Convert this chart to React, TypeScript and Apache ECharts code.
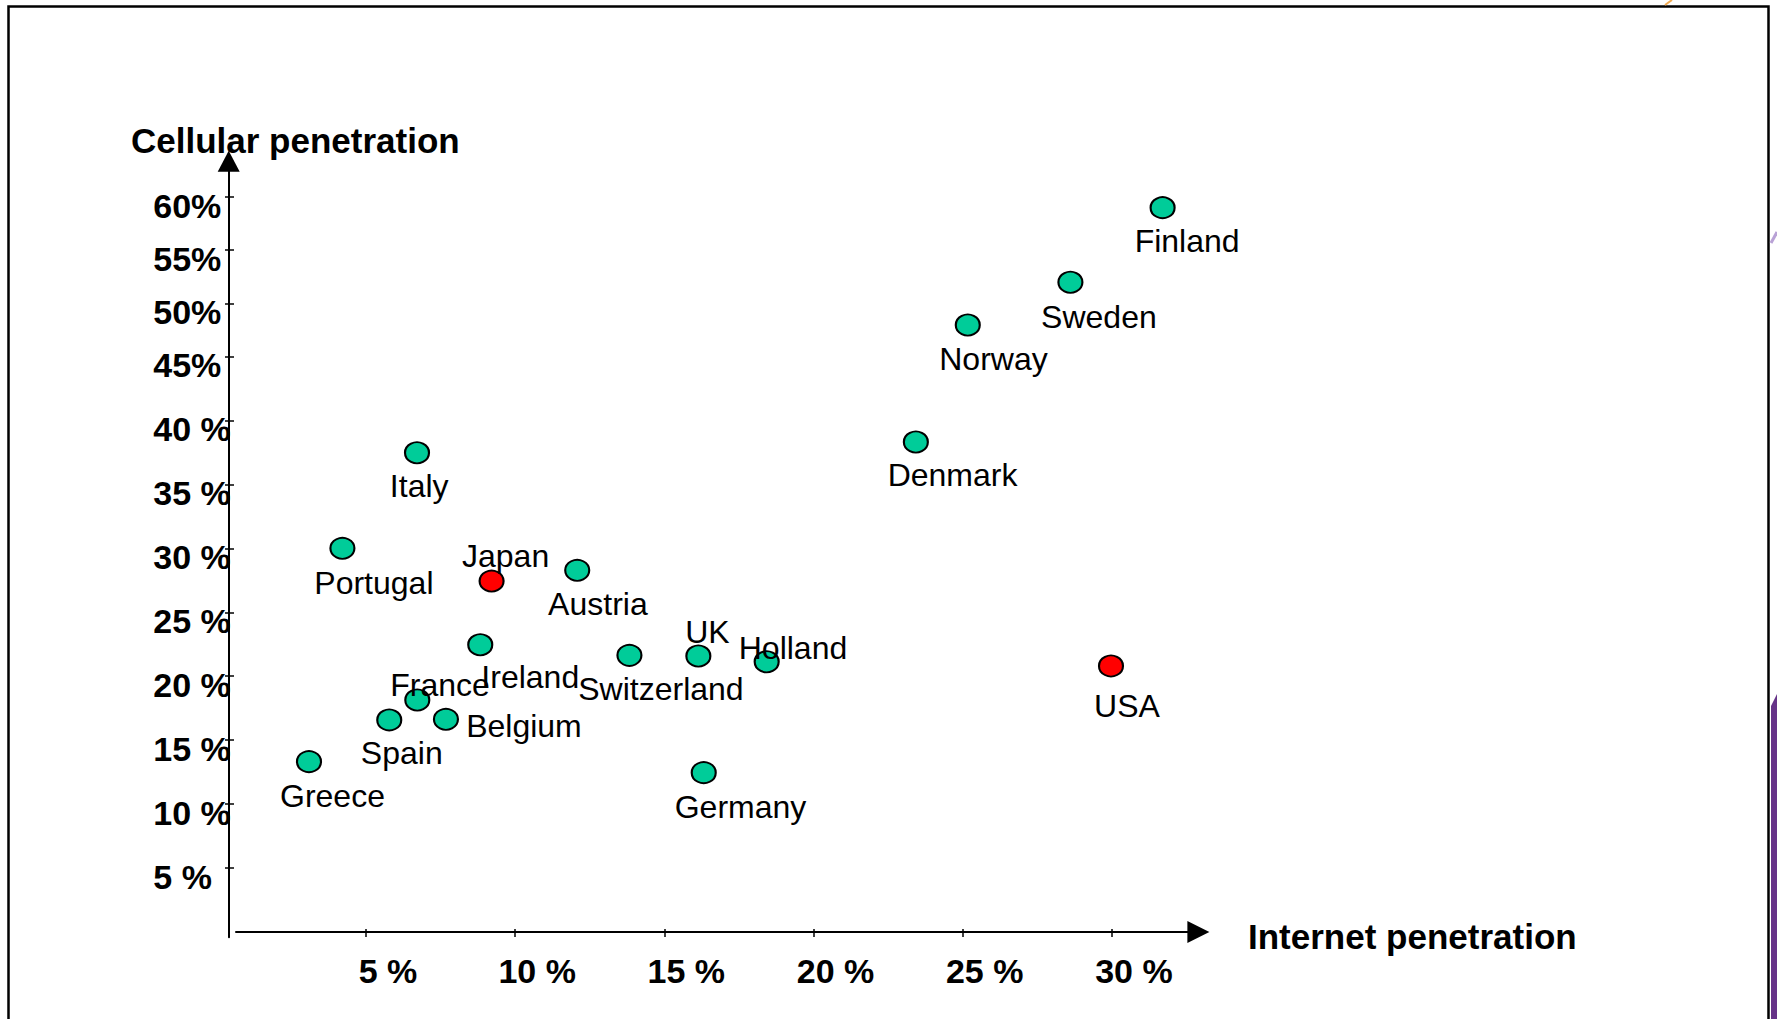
import React, { useEffect, useRef } from "react";
import * as echarts from "echarts";

// ---- data ----
const countries = [
  "Finland", "Sweden", "Norway", "Denmark", "Italy", "Portugal", "Japan", "Austria", "Ireland",
  "Switzerland", "UK", "Holland", "USA", "France", "Spain", "Belgium", "Greece", "Germany",
];
const internetPenetration = [
  31.7, 28.61, 25.17, 23.43, 6.71, 4.21, 9.21, 12.08, 8.83,
  13.83, 16.14, 18.43, 29.97, 6.72, 5.78, 7.68, 3.09, 16.32,
];
const cellularPenetration = [
  59.0, 51.98, 47.96, 38.31, 37.47, 30.0, 27.44, 28.28, 22.46,
  21.63, 21.58, 21.13, 20.8, 18.14, 16.58, 16.63, 13.32, 12.46,
];
const highlighted = ["Japan", "USA"];

const xTicks = [5, 10, 15, 20, 25, 30];
const xTickLabels = ["5 %", "10 %", "15 %", "20 %", "25 %", "30 %"];
const yTicks = [5, 10, 15, 20, 25, 30, 35, 40, 45, 50, 55, 60];
const yTickLabels = ["5 %", "10 %", "15 %", "20 %", "25 %", "30 %", "35 %", "40 %", "45%", "50%", "55%", "60%"];

// the y axis is drawn in two scales: 0–45 % and (compressed) 45 % and above
const Y_BREAK = 45;

// ---- layout / style (not data) ----
const FONT = "'Liberation Sans', Arial, Helvetica, sans-serif";
const GREEN = "#00CC99";
const RED = "#FF0000";
const labelOffsets: Record<string, [number, number]> = {
  Finland: [24.5, 33], Sweden: [28.5, 34.4], Norway: [25.7, 34], Denmark: [36.7, 32.7],
  USA: [16, 39.8], Italy: [2.2, 33.6], Portugal: [31.5, 34.2], Japan: [14, -25],
  Austria: [20.7, 34.2], Ireland: [50, 32], Switzerland: [31.5, 33.9], UK: [9, -23.5],
  Holland: [26.3, -14], France: [22.7, -15], Spain: [12.5, 33.5], Belgium: [78, 7],
  Greece: [23.5, 34], Germany: [36.8, 34],
};

const X_ZERO_PX = 216.8;
const X_PX_PER = 29.836;
const GRID_LEFT = 236;
const X_END_PX = 1198.4;
const Y_ZERO_PX = 932;
const Y_LOW_PX_PER = 12.79;
const Y_UP_PX_PER = 10.627;
const LOW_BOTTOM_PX = 937.3;
const BREAK_PX = Y_ZERO_PX - Y_BREAK * Y_LOW_PX_PER;
const UP_TOP_PX = 161.2;
const Y_AXIS_PX = 228.7;

const xMin = (GRID_LEFT - X_ZERO_PX) / X_PX_PER;
const xMax = (X_END_PX - X_ZERO_PX) / X_PX_PER;
const gridWidth = X_END_PX - GRID_LEFT;
const lowHeight = LOW_BOTTOM_PX - BREAK_PX;
const lowMin = -(LOW_BOTTOM_PX - Y_ZERO_PX) / Y_LOW_PX_PER;
const upHeight = BREAK_PX - UP_TOP_PX;
const upMax = Y_BREAK + upHeight / Y_UP_PX_PER;

const lowTicks = yTicks.filter((v) => v < Y_BREAK);
const upTicks = yTicks.filter((v) => v >= Y_BREAK);

const xLabel = (v: number) => {
  const i = xTicks.findIndex((t) => Math.abs(t - v) < 1e-6);
  return i >= 0 ? xTickLabels[i] : "";
};
const yLabel = (v: number) => {
  const i = yTicks.findIndex((t) => Math.abs(t - v) < 1e-6);
  return i >= 0 ? yTickLabels[i] : "";
};

function buildPoints(upper: boolean) {
  const out: any[] = [];
  countries.forEach((name, i) => {
    const y = cellularPenetration[i];
    if ((y >= Y_BREAK) !== upper) return;
    out.push({
      name,
      value: [internetPenetration[i], y],
      itemStyle: { color: highlighted.includes(name) ? RED : GREEN },
      label: { offset: labelOffsets[name] || [0, 32] },
    });
  });
  return out;
}

const axisLabelFont = { fontFamily: FONT, fontWeight: "bold" as const, fontSize: 34, color: "#000" };
const blackLine = { color: "#000", width: 2 };
const tickLine = { color: "#000", width: 1.5 };

function mainYAxis(grid: number, min: number, max: number, ticks: number[], arrow: boolean) {
  return {
    gridIndex: grid, type: "value", position: "left", offset: GRID_LEFT - Y_AXIS_PX, min, max,
    splitLine: { show: false },
    axisLine: {
      show: true, onZero: false, lineStyle: blackLine,
      symbol: arrow ? ["none", "triangle"] : ["none", "none"], symbolSize: [22, 21],
    },
    axisTick: { show: true, customValues: ticks, length: 3.7, lineStyle: tickLine },
    axisLabel: {
      show: true, customValues: ticks, formatter: yLabel, align: "left", verticalAlign: "top",
      lineHeight: 18, margin: Y_AXIS_PX - 153.3, ...axisLabelFont,
    },
  };
}
function overlayYAxis(grid: number, min: number, max: number, ticks: number[]) {
  return {
    gridIndex: grid, type: "value", position: "right", offset: -(gridWidth + GRID_LEFT - Y_AXIS_PX), min, max,
    splitLine: { show: false },
    axisLine: { show: false, onZero: false },
    axisTick: { show: true, customValues: ticks, length: 5.3, lineStyle: tickLine },
    axisLabel: { show: false },
  };
}

const seriesLabel = {
  show: true, position: "inside", formatter: "{b}", align: "center", verticalAlign: "middle",
  fontFamily: FONT, fontSize: 32, color: "#000",
};

export default function App() {
  const ref = useRef<HTMLDivElement>(null);
  useEffect(() => {
    if (!ref.current) return;
    const chart = echarts.init(ref.current, undefined, { renderer: "svg" });
    const option: any = {
      animation: false,
      backgroundColor: "#fff",
      title: {
        text: "Cellular penetration", left: 131, top: 122.5, padding: 0,
        textStyle: { fontFamily: FONT, fontWeight: "bold", fontSize: 35, color: "#000" },
      },
      grid: [
        { left: GRID_LEFT, top: BREAK_PX, width: gridWidth, height: lowHeight, containLabel: false, outerBoundsMode: "none" },
        { left: GRID_LEFT, top: UP_TOP_PX, width: gridWidth, height: upHeight, containLabel: false, outerBoundsMode: "none" },
      ],
      xAxis: [
        {
          gridIndex: 0, type: "value", min: xMin, max: xMax, splitLine: { show: false },
          axisLine: { show: true, onZero: true, symbol: ["none", "triangle"], symbolSize: [22, 22], lineStyle: blackLine },
          axisTick: { show: true, customValues: xTicks, length: 5, lineStyle: tickLine },
          axisLabel: {
            show: true, customValues: xTicks, formatter: xLabel, margin: 17,
            padding: [0, 0, 0, 44], ...axisLabelFont,
          },
          name: "Internet penetration", nameLocation: "end", nameGap: 49.6,
          nameTextStyle: {
            fontFamily: FONT, fontWeight: "bold", fontSize: 35, color: "#000",
            align: "left", verticalAlign: "top", lineHeight: 8,
          },
        },
        {
          gridIndex: 0, type: "value", position: "top", offset: BREAK_PX - Y_ZERO_PX, min: xMin, max: xMax,
          splitLine: { show: false }, axisLine: { show: false, onZero: false },
          axisTick: { show: true, customValues: xTicks, length: 3, lineStyle: tickLine },
          axisLabel: { show: false },
        },
        { gridIndex: 1, type: "value", min: xMin, max: xMax, show: false },
      ],
      yAxis: [
        mainYAxis(0, lowMin, Y_BREAK, lowTicks, false),
        overlayYAxis(0, lowMin, Y_BREAK, lowTicks),
        mainYAxis(1, Y_BREAK, upMax, upTicks, true),
        overlayYAxis(1, Y_BREAK, upMax, upTicks),
      ],
      series: [
        {
          type: "scatter", xAxisIndex: 0, yAxisIndex: 0, data: buildPoints(false),
          symbol: "circle", symbolSize: [24, 21],
          itemStyle: { borderColor: "#000", borderWidth: 2, opacity: 1 },
          label: seriesLabel, emphasis: { disabled: true }, silent: true, z: 3,
        },
        {
          type: "scatter", xAxisIndex: 2, yAxisIndex: 2, data: buildPoints(true),
          symbol: "circle", symbolSize: [24, 21],
          itemStyle: { borderColor: "#000", borderWidth: 2, opacity: 1 },
          label: seriesLabel, emphasis: { disabled: true }, silent: true, z: 3,
        },
      ],
      graphic: [
        {
          type: "polyline", silent: true, z: 0,
          shape: { points: [[8.5, 1025], [8.5, 6.5], [1768.5, 6.5], [1768.5, 1025]] },
          style: { stroke: "#000", lineWidth: 2.5, fill: null },
        },
        {
          type: "polygon", silent: true,
          shape: { points: [[1771, 706], [1777, 694], [1777, 1019], [1771, 1019]] },
          style: { fill: "#663388" },
        },
        {
          type: "line", silent: true,
          shape: { x1: 1771, y1: 243, x2: 1777, y2: 232 },
          style: { stroke: "#b9a2d6", lineWidth: 3 },
        },
        {
          type: "line", silent: true,
          shape: { x1: 1665, y1: 5, x2: 1672, y2: 0 },
          style: { stroke: "#f2aa50", lineWidth: 2 },
        },
      ],
    };
    chart.setOption(option);
    return () => chart.dispose();
  }, []);
  return (
    <div
      ref={ref}
      style={{ position: "absolute", left: 0, top: 0, width: 1777, height: 1019, background: "#fff" }}
    />
  );
}
